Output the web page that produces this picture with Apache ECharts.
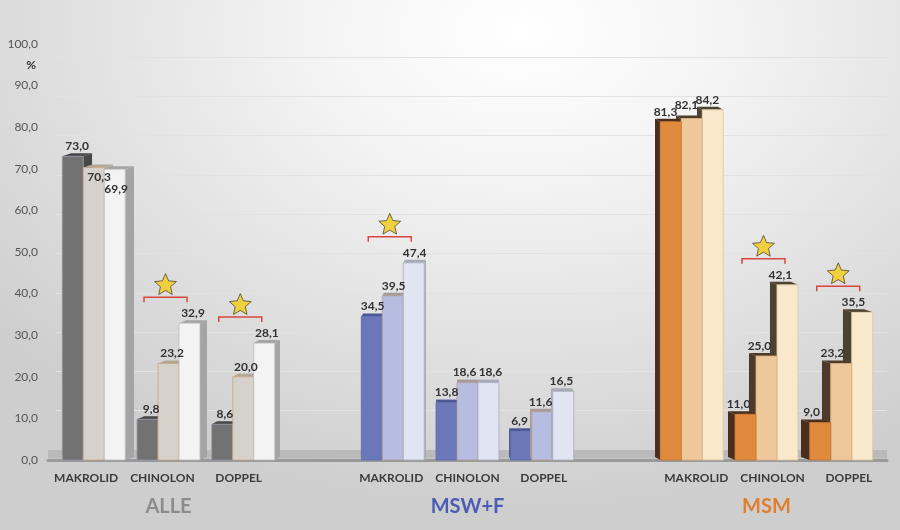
<!DOCTYPE html>
<html>
<head>
    <meta charset="utf-8">
    <title>Resistenzraten</title>
    <script src="https://cdn.jsdelivr.net/npm/echarts@6.0.0/dist/echarts.min.js"></script>
    <style>
        html, body { margin: 0; padding: 0; }
        #chart {
            width: 900px; height: 530px;
            background: radial-gradient(ellipse 75% 90% at 58% 6%, #ffffff 0%, #f4f4f4 30%, #e3e3e3 62%, #cecece 100%);
        }
    </style>
</head>
<body>
<div id="chart"></div>
<script>
    // Kategorien, leere Einträge = Abstand zwischen den Gruppen
    var categories = ['MAKROLID', 'CHINOLON', 'DOPPEL', '', 'MAKROLID', 'CHINOLON', 'DOPPEL', '', 'MAKROLID', 'CHINOLON', 'DOPPEL'];
    var groups = ['ALLE', 'MSW+F', 'MSM'];
    // drei Zeiträume (%)
    var period1 = [73.0, 9.8, 8.6, null, 34.5, 13.8, 6.9, null, 81.3, 11.0, 9.0];
    var period2 = [70.3, 23.2, 20.0, null, 39.5, 18.6, 11.6, null, 82.1, 25.0, 23.2];
    var period3 = [69.9, 32.9, 28.1, null, 47.4, 18.6, 16.5, null, 84.2, 42.1, 35.5];
    // signifikanter Anstieg (Stern)
    var significant = [false, true, true, false, true, false, false, false, false, true, true];
    var yMin = 0, yMax = 100, yStep = 10;

    var periods = [period1, period2, period3];

    // Farben je Gruppe
    var groupColors = [
        {front: ['#727272', '#d6d1cb', '#f3f3f3'], side: ['#474747', '#b3a796', '#a4a4a4'],
         stroke: ['#8f95a6', '#c9a680', '#bdbdbd'], title: '#8c8c8c'},
        {front: ['#6a78ba', '#b7bde0', '#e1e4f3'], side: ['#4b5797', '#a49a9a', '#a8aab8'],
         stroke: ['#5d69a8', '#b29c8e', '#a9abb8'], title: '#4b5cb5'},
        {front: ['#e08a3e', '#eec89a', '#f9e8cb'], side: ['#4a2e1d', '#4d3a2a', '#4d4232'],
         stroke: ['#c8732c', '#d8ae7e', '#d9c6a4'], title: '#e07f2e'}
    ];
    // Beschriftungen, die im Original von Hand verschoben sind
    var labelNudge = {'0-1': [1, 20], '0-2': [-3, 30], '5-1': [-3, 0], '5-2': [2, 0], '8-1': [0, -3]};

    function fmt(v) {
        return v.toFixed(1).replace('.', ',');
    }

    // Perspektive: Abstand zur Mitte der Zeichenfläche
    function persp(params, x) {
        var cs = params.coordSys;
        return cs.x + cs.width / 2 - x;
    }

    function barGeom(params, api, idx, s, val) {
        var base = api.coord([idx, 0]);
        var top = api.coord([idx, val]);
        var bw = api.size([1, 0])[0] * 0.275;
        var p = persp(params, base[0]);
        var cx = base[0] + p * 0.02;
        var x0 = cx + (s - 1.5) * bw;
        return {x0: x0, x1: x0 + bw, bw: bw, yT: top[1], yB: base[1], d: p * 0.023, e: 3, cx: cx};
    }

    function barRender(s) {
        return function (params, api) {
            var idx = api.value(0), val = api.value(1);
            var col = groupColors[Math.floor(idx / 4)];
            var b = barGeom(params, api, idx, s, val);
            var xs = b.d > 0 ? b.x1 : b.x0;
            return {
                type: 'group',
                children: [
                    {type: 'polygon', shape: {points: [[xs, b.yT], [xs + b.d, b.yT - b.e], [xs + b.d, b.yB - b.e], [xs, b.yB]]},
                        style: {fill: col.side[s]}},
                    {type: 'polygon', shape: {points: [[b.x0, b.yT], [b.x0 + b.d, b.yT - b.e], [b.x1 + b.d, b.yT - b.e], [b.x1, b.yT]]},
                        style: {fill: col.side[s]}},
                    {type: 'rect', shape: {x: b.x0, y: b.yT, width: b.bw, height: b.yB - b.yT},
                        style: {fill: col.front[s], stroke: col.stroke[s], lineWidth: 0.8}}
                ]
            };
        };
    }

    function labelRender(params, api) {
        var idx = api.value(0);
        var children = [];
        for (var s = 0; s < 3; s++) {
            var val = api.value(s + 1);
            var b = barGeom(params, api, idx, s, val);
            var shift = b.d > 0 ? b.d * 0.5 : b.d;
            var n = labelNudge[idx + '-' + s] || [0, 0];
            children.push({type: 'text', style: {
                text: fmt(val), x: (b.x0 + b.x1) / 2 + shift + n[0], y: b.yT - b.e - 1 + n[1],
                align: 'center', verticalAlign: 'bottom', font: 'bold 12px Lato', fill: '#333333'}});
        }
        return {type: 'group', children: children};
    }

    function starPoints(cx, cy, R, r) {
        var pts = [];
        for (var i = 0; i < 10; i++) {
            var a = -Math.PI / 2 + i * Math.PI / 5;
            var rad = i % 2 ? r : R;
            pts.push([cx + rad * Math.cos(a), cy + rad * Math.sin(a)]);
        }
        return pts;
    }

    function floorRender(params, api) {
        var cs = params.coordSys;
        var base = api.coord([0, 0]);
        return {type: 'rect', shape: {x: cs.x, y: base[1] - 10, width: cs.width, height: 8.5},
            style: {fill: '#bababa'}};
    }

    function decorRender(params, api) {
        var idx = api.value(0), max = api.value(1), sig = api.value(2);
        var base = api.coord([idx, 0]);
        var cx = base[0] + persp(params, base[0]) * 0.02;
        var children = [];
        if (sig) {
            var bx = cx - 3, by = api.coord([idx, max])[1] - 26, h = 21.5;
            children.push({type: 'polyline',
                shape: {points: [[bx - h, by + 5], [bx - h, by], [bx + h, by], [bx + h, by + 5]]},
                style: {stroke: '#d9463e', lineWidth: 1.5, fill: null}});
            children.push({type: 'polygon', shape: {points: starPoints(bx, by - 12, 11.5, 5.3)},
                style: {fill: '#f1d03f', stroke: '#4a4636', lineWidth: 0.8}});
        }
        if (idx % 4 === 1) {
            var g = Math.floor(idx / 4);
            children.push({type: 'text', style: {
                text: groups[g], x: cx, y: base[1] + 47, align: 'center', verticalAlign: 'middle',
                font: 'bold 20px Lato', fill: groupColors[g].title}});
        }
        return {type: 'group', children: children};
    }

    // Balken links (Seitenfläche rechts) und MSM (Seitenfläche links) getrennt,
    // damit die Überdeckung stimmt
    function barData(arr, msm) {
        var out = [];
        arr.forEach(function (v, i) {
            if (v !== null && (Math.floor(i / 4) === 2) === msm) out.push([i, v]);
        });
        return out;
    }

    var decorData = [], labelData = [];
    categories.forEach(function (c, i) {
        if (period1[i] === null) return;
        decorData.push([i, Math.max(period1[i], period2[i], period3[i]), significant[i] ? 1 : 0]);
        labelData.push([i, period1[i], period2[i], period3[i]]);
    });

    var series = [
        {type: 'custom', renderItem: floorRender, data: [[0, 0]], clip: false, silent: true, z: 1}
    ];
    for (var s = 0; s < 3; s++) {
        series.push({type: 'custom', renderItem: barRender(s), data: barData(periods[s], false),
            clip: false, silent: true, z: 2 + s});
        series.push({type: 'custom', renderItem: barRender(s), data: barData(periods[s], true),
            clip: false, silent: true, z: 4 - s});
    }
    series.push({type: 'custom', renderItem: labelRender, data: labelData, clip: false, silent: true, z: 10});
    series.push({type: 'custom', renderItem: decorRender, data: decorData, clip: false, silent: true, z: 10});

    var myChart = echarts.init(document.getElementById('chart'));
    myChart.setOption({
        backgroundColor: 'transparent',
        animation: false,
        textStyle: {fontFamily: 'Lato'},
        grid: [
            {left: 48, right: 13, top: 44, bottom: 70},
            // Rückwand mit Gitterlinien
            {left: 56, right: 13, top: 57, bottom: 80}
        ],
        xAxis: [
            {
                type: 'category', data: categories, gridIndex: 0,
                axisTick: {show: false},
                axisLine: {lineStyle: {color: '#9a9a9a', width: 3}},
                axisLabel: {interval: 0, margin: 12, color: '#3c3c3c', fontWeight: 'bold', fontSize: 12}
            },
            {type: 'value', gridIndex: 1, show: false}
        ],
        yAxis: [
            {
                type: 'value', gridIndex: 0, min: yMin, max: yMax, interval: yStep,
                name: '%', nameLocation: 'end', nameGap: -21,
                nameTextStyle: {align: 'right', verticalAlign: 'middle', padding: [0, 12, 0, 0],
                    fontWeight: 'bold', fontSize: 12, color: '#333'},
                axisLine: {show: false}, axisTick: {show: false},
                axisLabel: {margin: 10, color: '#555', fontSize: 12, formatter: fmt},
                splitLine: {show: false}
            },
            {
                type: 'value', gridIndex: 1, min: yMin, max: yMax, interval: yStep,
                axisLine: {show: false}, axisTick: {show: false}, axisLabel: {show: false},
                splitLine: {lineStyle: {color: '#e2e2e2', width: 1}}
            }
        ],
        series: series
    });
</script>
</body>
</html>
